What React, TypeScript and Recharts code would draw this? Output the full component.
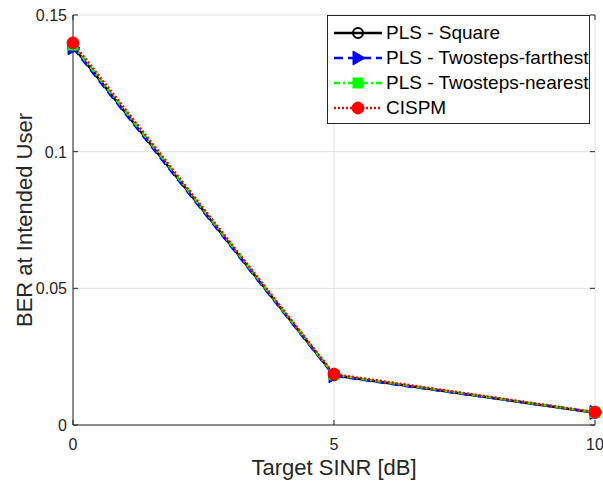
import { LineChart, Line, XAxis, YAxis, CartesianGrid } from 'recharts';

const snr = [0, 5, 10];
const plsSquare = [0.1385, 0.0182, 0.0045];
const plsFarthest = [0.1380, 0.0180, 0.0046];
const plsNearest = [0.1390, 0.0184, 0.0046];
const cispm = [0.1398, 0.0186, 0.0047];

const xTicks = [0, 5, 10];
const yTicks = [0, 0.05, 0.1, 0.15];

const data = snr.map((s, i) => ({
  snr: s,
  square: plsSquare[i],
  farthest: plsFarthest[i],
  nearest: plsNearest[i],
  cispm: cispm[i],
}));

const FONT = '"Liberation Sans", Arial, Helvetica, sans-serif';
const AXIS = '#262626';

type MarkerKind = 'circleOpen' | 'triangle' | 'square' | 'circle';

const SERIES: { key: string; name: string; color: string; dash?: string; marker: MarkerKind }[] = [
  { key: 'square', name: 'PLS - Square', color: '#000000', marker: 'circleOpen' },
  { key: 'farthest', name: 'PLS - Twosteps-farthest', color: '#0000ff', dash: '9 5', marker: 'triangle' },
  { key: 'nearest', name: 'PLS - Twosteps-nearest', color: '#00ff00', dash: '6 3 2 3', marker: 'square' },
  { key: 'cispm', name: 'CISPM', color: '#ff0000', dash: '2 2', marker: 'circle' },
];

function Marker({ kind, cx, cy, color }: { kind: MarkerKind; cx: number; cy: number; color: string }) {
  if (kind === 'circleOpen') {
    return <circle cx={cx} cy={cy} r={5} fill="none" stroke={color} strokeWidth={2} />;
  }
  if (kind === 'triangle') {
    return (
      <polygon
        points={`${cx - 5},${cy - 7} ${cx + 7},${cy} ${cx - 5},${cy + 7}`}
        fill={color}
        stroke={color}
        strokeWidth={1}
      />
    );
  }
  if (kind === 'square') {
    return <rect x={cx - 5} y={cy - 5} width={10} height={10} fill={color} stroke={color} />;
  }
  return <circle cx={cx} cy={cy} r={6} fill={color} stroke={color} />;
}

function makeDot(kind: MarkerKind, color: string) {
  return (props: any) => {
    const { cx, cy, index } = props;
    if (cx == null || cy == null) return <g key={index} />;
    return (
      <g key={`${kind}-${index}`}>
        <Marker kind={kind} cx={cx} cy={cy} color={color} />
      </g>
    );
  };
}

function XTick(props: any) {
  const { x, y, payload } = props;
  return (
    <g>
      <line x1={x} y1={y} x2={x} y2={y - 5} stroke={AXIS} strokeWidth={1} />
      <line x1={x} y1={15} x2={x} y2={20} stroke={AXIS} strokeWidth={1} />
      <text x={x} y={y + 25} textAnchor="middle" fontSize={16} fill={AXIS} fontFamily={FONT}>
        {payload.value}
      </text>
    </g>
  );
}

function YTick(props: any) {
  const { x, y, payload } = props;
  return (
    <g>
      <line x1={x} y1={y} x2={x + 5} y2={y} stroke={AXIS} strokeWidth={1} />
      <line x1={595} y1={y} x2={590} y2={y} stroke={AXIS} strokeWidth={1} />
      <text x={x - 6} y={y + 6} textAnchor="end" fontSize={16} fill={AXIS} fontFamily={FONT}>
        {payload.value}
      </text>
    </g>
  );
}

function LegendBox() {
  return (
    <div
      style={{
        position: 'absolute',
        left: 327,
        top: 15,
        border: `1px solid ${AXIS}`,
        background: '#fff',
        width: 263,
        padding: '4px 0 3px 0',
        fontFamily: FONT,
        fontSize: 19,
        color: '#000',
        whiteSpace: 'nowrap',
        boxSizing: 'border-box',
      }}
    >
      {SERIES.map(s => (
        <div key={s.key} style={{ display: 'flex', alignItems: 'center', height: 25 }}>
          <svg width={52} height={20} style={{ marginLeft: 4, flexShrink: 0 }}>
            <line
              x1={2}
              y1={10}
              x2={50}
              y2={10}
              stroke={s.color}
              strokeWidth={2.5}
              strokeDasharray={s.dash}
            />
            <Marker kind={s.marker} cx={26} cy={10} color={s.color} />
          </svg>
          <span style={{ marginLeft: 2, lineHeight: '25px' }}>{s.name}</span>
        </div>
      ))}
    </div>
  );
}

export default function App() {
  return (
    <div style={{ position: 'absolute', left: 0, top: 0, width: 603, height: 483, background: '#fff' }}>
      <LineChart width={603} height={483} data={data} margin={{ top: 15, right: 8, left: 0, bottom: 0 }}>
        <CartesianGrid stroke="#dfdfdf" strokeWidth={1} />
        <XAxis
          dataKey="snr"
          type="number"
          domain={[0, 10]}
          ticks={xTicks}
          height={58}
          stroke={AXIS}
          tickLine={false}
          tickSize={0}
          tickMargin={0}
          tick={<XTick />}
          label={{
            value: 'Target SINR [dB]',
            position: 'center',
            dy: 13,
            style: { fontSize: 22, fill: AXIS, fontFamily: FONT },
          }}
        />
        <XAxis xAxisId="top" orientation="top" dataKey="snr" type="number" domain={[0, 10]} height={0} tick={false} tickLine={false} stroke={AXIS} />
        <YAxis
          type="number"
          domain={[0, 0.15]}
          ticks={yTicks}
          width={73}
          stroke={AXIS}
          tickLine={false}
          tickSize={0}
          tickMargin={0}
          tick={<YTick />}
          label={{
            value: 'BER at Intended User',
            angle: -90,
            position: 'center',
            dx: -12,
            style: { fontSize: 22, fill: AXIS, fontFamily: FONT, textAnchor: 'middle' },
          }}
        />
        <YAxis yAxisId="right" orientation="right" domain={[0, 0.15]} width={0} tick={false} tickLine={false} stroke={AXIS} />
        {SERIES.map(s => (
          <Line
            key={s.key}
            dataKey={s.key}
            name={s.name}
            stroke={s.color}
            strokeWidth={2.5}
            strokeDasharray={s.dash}
            dot={makeDot(s.marker, s.color)}
            activeDot={false}
            isAnimationActive={false}
          />
        ))}
      </LineChart>
      <LegendBox />
    </div>
  );
}
